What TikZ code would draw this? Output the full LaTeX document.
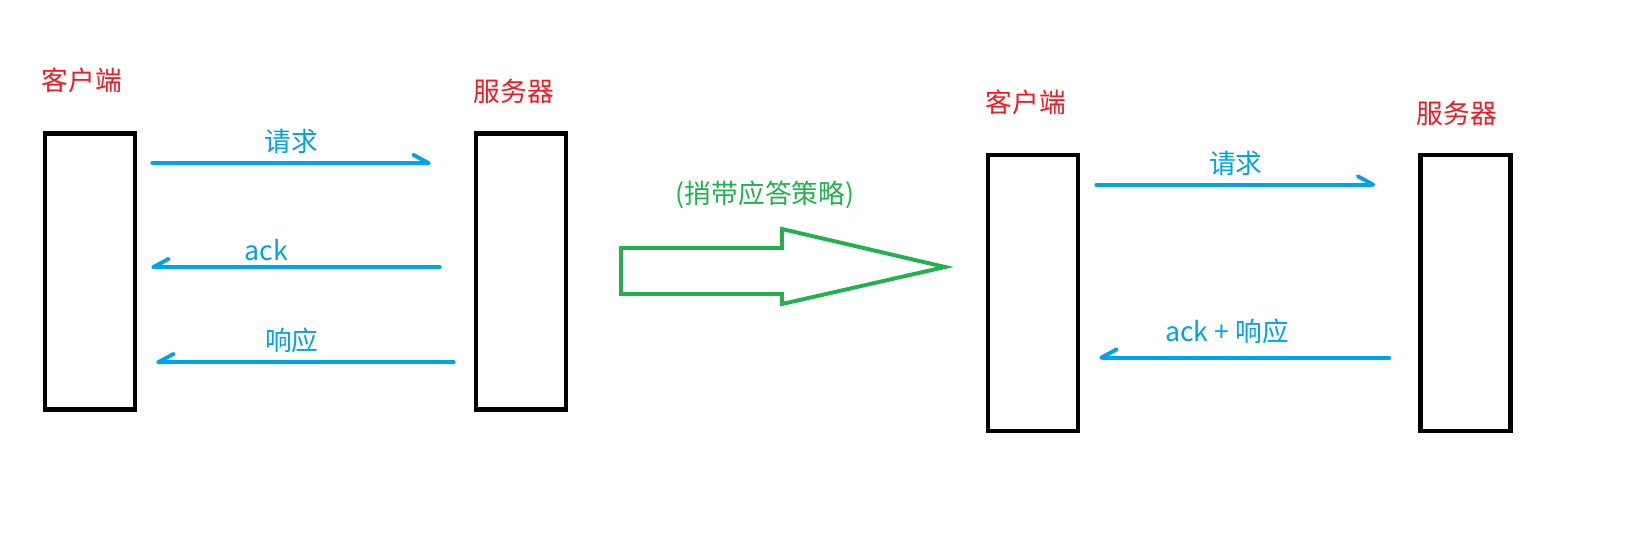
\documentclass[tikz,border=0pt]{standalone}
\usepackage{xcolor}
\usepackage{fontspec}
\usepackage{tikz}
\usetikzlibrary{positioning, arrows.meta}
\newfontfamily\cjk{Noto Sans CJK SC}

\definecolor{paintred}{HTML}{ED1C24}
\definecolor{paintblue}{HTML}{00A2E8}
\definecolor{paintgreen}{HTML}{22B14C}

\tikzset{
    hostbox/.style={draw, line width=3.2pt, minimum width=2.25cm, minimum height=6.9cm},
    hostlabel/.style={text=paintred, font=\cjk\fontsize{19}{22}\selectfont},
    msglabel/.style={text=paintblue, font=\cjk\fontsize{19}{22}\selectfont},
    fwd/.style={draw=paintblue, line width=2.8pt, line cap=round,
        -{Straight Barb[left, length=11pt, width=12pt, line width=2.8pt, round]}},
    bwd/.style={draw=paintblue, line width=2.8pt, line cap=round,
        -{Straight Barb[right, length=11pt, width=12pt, line width=2.8pt, round]}}
}

\begin{document}
\begin{tikzpicture}[x=0.025cm, y=-0.025cm]
        \useasboundingbox (0,0) rectangle (1640,557);

        % Nodes
        \node (cl) [hostbox] at (90,271.5) {};
        \node (sv) [hostbox] at (521,271.5) {};
        \node (cr) [hostbox] at (1033,293) {};
        \node (sr) [hostbox] at (1465.5,293) {};

        \node (cll) [hostlabel] at (82,80) {客户端};
        \node (svl) [hostlabel] at (514,91) {服务器};
        \node (crl) [hostlabel] at (1026,102) {客户端};
        \node (srl) [hostlabel] at (1457,113) {服务器};

        % Arrows
        \draw[fwd] ([xshift=0.375cm, yshift=-0.8cm]cl.north east) -- node[msglabel, above=2pt] {请求} ([xshift=-1.075cm, yshift=-0.8cm]sv.north west);
        \draw[bwd] ([xshift=-0.85cm, yshift=-3.4cm]sv.north west) -- node[msglabel, pos=0.6, above=0pt] {ack} ([xshift=0.35cm, yshift=-3.4cm]cl.north east);
        \draw[bwd] ([xshift=-0.5cm, yshift=-5.775cm]sv.north west) -- node[msglabel, pos=0.544, above=2pt] {响应} ([xshift=0.475cm, yshift=-5.775cm]cl.north east);

        \draw[fwd] ([xshift=0.4cm, yshift=-0.8cm]cr.north east) -- node[msglabel, above=2pt] {请求} ([xshift=-1.075cm, yshift=-0.8cm]sr.north west);
        \draw[bwd] ([xshift=-0.725cm, yshift=-5.125cm]sr.north west) -- node[msglabel, pos=0.559, above=5pt] {ack + 响应} ([xshift=0.475cm, yshift=-5.125cm]cr.north east);

        % Strategy
        \node (stl) [text=paintgreen, font=\cjk\fontsize{19}{22}\selectfont] at (765,195) {(捎带应答策略)};
        \draw[paintgreen, line width=2.8pt, line join=miter]
            (621,248) -- (782,248) -- (782,229) -- (945,267) -- (782,304) -- (782,294) -- (621,294) -- cycle;

    \end{tikzpicture}
\end{document}
